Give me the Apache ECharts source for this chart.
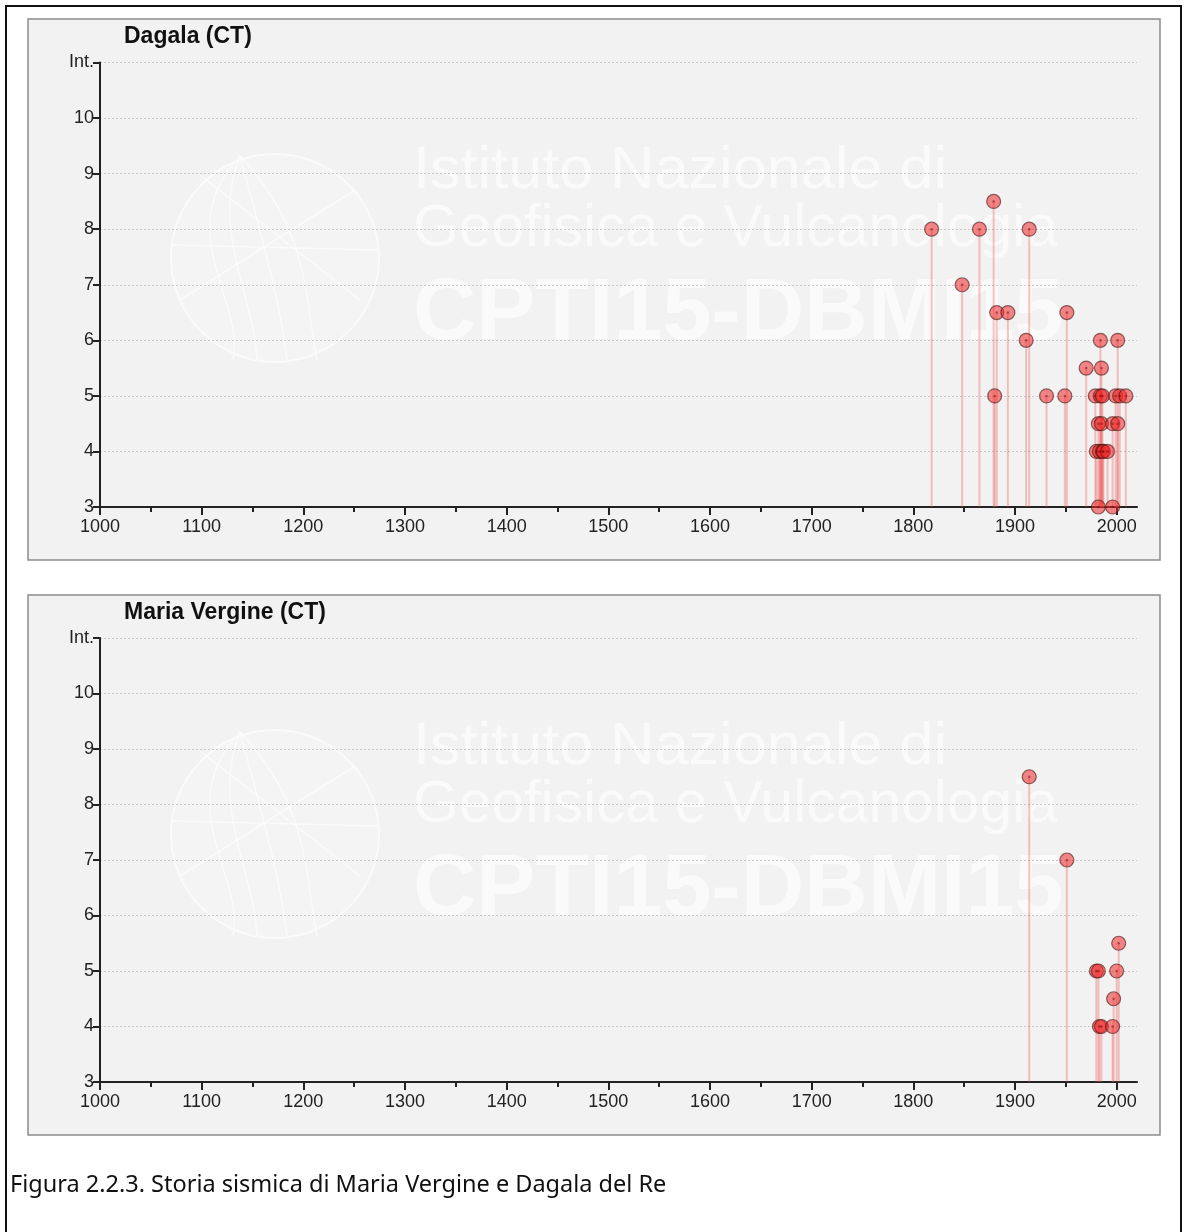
<!DOCTYPE html>
<html>
<head>
<meta charset="utf-8">
<title>Storia sismica di Maria Vergine e Dagala del Re</title>
<script src="https://cdn.jsdelivr.net/npm/echarts@6/dist/echarts.min.js"></script>
<style>
  html, body { margin: 0; padding: 0; background: #ffffff; }
  #chart { width: 1184px; height: 1232px; }
</style>
</head>
<body>
<div id="chart"></div>
<script>
// Seismic histories (year of event, macroseismic intensity at the site)
const dagalaYears = [1818, 1848, 1865, 1879, 1880, 1882, 1893, 1911, 1914, 1931, 1949, 1951,
  1970, 1979, 1980, 1982, 1982, 1983, 1984, 1984, 1985, 1985, 1986, 1986, 1987, 1991,
  1996, 1996, 1999, 2001, 2001, 2003, 2009];
const dagalaInt = [8, 7, 8, 8.5, 5, 6.5, 6.5, 6, 8, 5, 5, 6.5,
  5.5, 5, 4, 3, 4.5, 4, 6, 5, 5.5, 4.5, 5, 4, 4, 4,
  3, 4.5, 5, 6, 4.5, 5, 5];

const vergineYears = [1914, 1951, 1980, 1982, 1983, 1985, 1996, 1997, 2000, 2002];
const vergineInt = [8.5, 7, 5, 5, 4, 4, 4, 4.5, 5, 5.5];

const panelTitles = ['Dagala (CT)', 'Maria Vergine (CT)'];
const yearLabels = [1000, 1100, 1200, 1300, 1400, 1500, 1600, 1700, 1800, 1900, 2000];
const yearMinorTicks = [1050, 1150, 1250, 1350, 1450, 1550, 1650, 1750, 1850, 1950];
const intensityTop = 11;      // drawn as "Int."
const intensityBase = 3;
const yearMin = 1000;
const yearMax = 2020;
const caption = 'Figura 2.2.3. Storia sismica di Maria Vergine e Dagala del Re';
const watermarkLines = ['Istituto Nazionale di', 'Geofisica e Vulcanologia', 'CPTI15-DBMI15'];

const FONT = '"Liberation Sans", Arial, sans-serif';
const chart = echarts.init(document.getElementById('chart'), null, { renderer: 'canvas' });

// vertical geometry of the two panels
const panels = [
  { top: 19, bottom: 560, gridTop: 62.5, gridBottom: 507 },
  { top: 595, bottom: 1135, gridTop: 638, gridBottom: 1082 }
];
const panelLeft = 28, panelRight = 1160;

function pairs(xs, ys) { return xs.map((x, i) => [x, ys[i]]); }
const seriesData = [pairs(dagalaYears, dagalaInt), pairs(vergineYears, vergineInt)];

const grids = [], xAxes = [], yAxes = [], series = [], graphics = [];

panels.forEach((p, i) => {
  grids.push({ left: 100, right: 47, top: p.gridTop, height: p.gridBottom - p.gridTop });

  // main year axis
  xAxes.push({
    type: 'value', gridIndex: i, position: 'bottom', min: yearMin, max: yearMax,
    axisLine: { show: true, onZero: false, lineStyle: { color: '#222', width: 2 } },
    axisTick: { show: true, length: 8, lineStyle: { color: '#222', width: 2 }, customValues: yearLabels },
    axisLabel: {
      customValues: yearLabels, color: '#222', fontSize: 18, fontFamily: FONT, margin: 11,
      formatter: v => String(v)
    },
    splitLine: { show: false }
  });
  // half-century minor ticks
  xAxes.push({
    type: 'value', gridIndex: i, position: 'bottom', offset: 0, min: yearMin, max: yearMax,
    axisLine: { show: false, onZero: false },
    axisTick: { show: true, length: 5, lineStyle: { color: '#222', width: 2 }, customValues: yearMinorTicks },
    axisLabel: { show: false },
    splitLine: { show: false }
  });

  yAxes.push({
    type: 'value', gridIndex: i, min: intensityBase, max: intensityTop, interval: 1,
    axisLine: { show: true, onZero: false, lineStyle: { color: '#222', width: 2 } },
    axisTick: { show: true, length: 7, lineStyle: { color: '#222', width: 2 } },
    axisLabel: {
      color: '#222', fontSize: 18, fontFamily: FONT, margin: 6,
      formatter: v => (v === intensityTop ? 'Int.' : String(v))
    },
    splitLine: { show: true, lineStyle: { color: '#c8c8c8', width: 1, type: [2, 2] } }
  });

  const xi = i * 2;
  // stems from the baseline up to each intensity
  series.push({
    type: 'custom', xAxisIndex: xi, yAxisIndex: i, z: 3,
    data: seriesData[i],
    encode: { x: 0, y: 1 },
    renderItem: function (params, api) {
      const tip = api.coord([api.value(0), api.value(1)]);
      const base = api.coord([api.value(0), intensityBase]);
      return {
        type: 'line',
        shape: { x1: tip[0], y1: tip[1], x2: base[0], y2: base[1] },
        style: { stroke: 'rgba(238, 90, 90, 0.35)', lineWidth: 2 }
      };
    }
  });
  // event markers
  series.push({
    type: 'scatter', xAxisIndex: xi, yAxisIndex: i, z: 4,
    data: seriesData[i], symbol: 'circle', symbolSize: 14,
    itemStyle: { color: 'rgba(238, 40, 40, 0.55)', borderColor: 'rgba(70, 20, 20, 0.6)', borderWidth: 1.2, opacity: 1 },
    emphasis: { disabled: true }
  });
  series.push({
    type: 'scatter', xAxisIndex: xi, yAxisIndex: i, z: 5,
    data: seriesData[i], symbol: 'circle', symbolSize: 2.5,
    itemStyle: { color: 'rgba(110, 0, 0, 0.6)' },
    emphasis: { disabled: true }
  });

  // panel background and frame
  graphics.push({
    type: 'rect', z: -20,
    shape: { x: panelLeft, y: p.top, width: panelRight - panelLeft, height: p.bottom - p.top },
    style: { fill: '#f2f2f2', stroke: '#8c8c8c', lineWidth: 1.5 }
  });

  // faint institute watermark
  const dy = p.top - 19;
  const wm = 'rgba(255, 255, 255, 0.6)';
  graphics.push({
    type: 'circle', z: -10,
    shape: { cx: 275, cy: 258 + dy, r: 104 },
    style: { fill: 'rgba(255,255,255,0.2)', stroke: wm, lineWidth: 2 }
  });
  [[-70, 40], [-30, 10], [20, -15], [70, -40]].forEach(c => {
    graphics.push({
      type: 'bezierCurve', z: -10,
      shape: { x1: 240, y1: 156 + dy, x2: 275 + c[0] * 0.6, y2: 360 + dy,
               cpx1: 240 + c[0], cpy1: 230 + dy, cpx2: 275 + c[0] + c[1], cpy2: 300 + dy },
      style: { fill: null, stroke: wm, lineWidth: 1.5 }
    });
  });
  [[200, 175, 360, 300], [180, 300, 355, 190], [172, 245, 378, 250]].forEach(l => {
    graphics.push({
      type: 'line', z: -10,
      shape: { x1: l[0], y1: l[1] + dy, x2: l[2], y2: l[3] + dy },
      style: { stroke: wm, lineWidth: 1.5 }
    });
  });
  graphics.push({
    type: 'text', z: -10, x: 413, y: 171 + dy, scaleX: 1.02,
    style: { text: watermarkLines[0], x: 0, y: 0, font: '60px ' + FONT, fill: wm, verticalAlign: 'middle' }
  });
  graphics.push({
    type: 'text', z: -10, x: 413, y: 229 + dy, scaleX: 0.98,
    style: { text: watermarkLines[1], x: 0, y: 0, font: '60px ' + FONT, fill: wm, verticalAlign: 'middle' }
  });
  graphics.push({
    type: 'text', z: -10, x: 413, y: 315 + dy, scaleX: 1.0,
    style: { text: watermarkLines[2], x: 0, y: 0, font: 'bold 88px ' + FONT, fill: wm, verticalAlign: 'middle' }
  });

  // panel title
  graphics.push({
    type: 'text', z: 10, x: 124, y: p.top + 18,
    style: { text: panelTitles[i], font: 'bold 23px ' + FONT, fill: '#111', verticalAlign: 'middle' }
  });
});

// page frame and caption
graphics.push({
  type: 'polyline', z: 20,
  shape: { points: [[6, 1232], [6, 6], [1181, 6], [1181, 1232]] },
  style: { stroke: '#111', lineWidth: 2, fill: null }
});
graphics.push({
  type: 'text', z: 20, x: 10, y: 1185,
  style: { text: caption, font: '23.5px "Noto Sans", ' + FONT, fill: '#111', verticalAlign: 'middle' }
});

chart.setOption({
  backgroundColor: '#ffffff',
  animation: false,
  grid: grids,
  xAxis: xAxes,
  yAxis: yAxes,
  series: series,
  graphic: { elements: graphics }
});
</script>
</body>
</html>
